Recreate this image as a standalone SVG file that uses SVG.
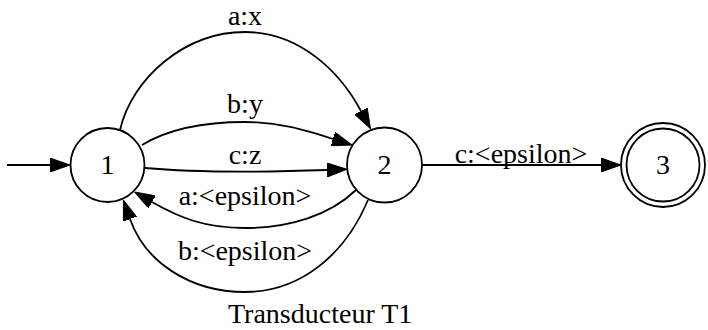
<svg xmlns="http://www.w3.org/2000/svg" width="708" height="330" viewBox="0 0 708 330">
<style>
.n{fill:#fff;stroke:#000;stroke-width:1.8}
.e{fill:none;stroke:#000;stroke-width:1.8}
text{font-family:"Liberation Serif","Times New Roman",serif;font-size:28px;fill:#000}
.c{text-anchor:middle}
</style>
<defs>
<marker id="ah" viewBox="0 0 20 14" refX="0" refY="7" markerWidth="20" markerHeight="14" markerUnits="userSpaceOnUse" orient="auto">
<path d="M0,0 L20,7 L0,14 z" fill="#000" stroke="#000" stroke-width="1"/>
</marker>
</defs>
<rect width="708" height="330" fill="#fff"/>
<g id="edges">
<path class="e" d="M7,165 L50,165" marker-end="url(#ah)"/>
<path class="e" d="M120,130 C132,78 185,32 245,32 C300,32 340,72 361,111" marker-end="url(#ah)"/>
<path class="e" d="M142,145 C170,128 205,122 245,122 C280,122 305,130 333,139" marker-end="url(#ah)"/>
<path class="e" d="M145,168 C200,173 270,172 327,170" marker-end="url(#ah)"/>
<path class="e" d="M356,190 C330,215 290,228 245,228 C205,228 180,218 152,202" marker-end="url(#ah)"/>
<path class="e" d="M368,200 C345,255 300,292 245,292 C190,292 145,262 130,219" marker-end="url(#ah)"/>
<path class="e" d="M422,165 L601,165" marker-end="url(#ah)"/>
<text class="c" x="245" y="25">a:x</text>
<text class="c" x="245" y="113">b:y</text>
<text class="c" x="245" y="164">c:z</text>
<text class="c" x="245" y="205">a:&lt;epsilon&gt;</text>
<text class="c" x="245" y="260">b:&lt;epsilon&gt;</text>
<text class="c" x="521" y="163">c:&lt;epsilon&gt;</text>
</g>
<g id="node1">
<circle class="n" cx="107.5" cy="165" r="37"/>
<text class="c" x="107.5" y="174">1</text>
</g>
<g id="node2">
<circle class="n" cx="384.5" cy="165" r="37.5"/>
<text class="c" x="384.5" y="174">2</text>
</g>
<g id="node3">
<circle class="n" cx="663" cy="165" r="42"/>
<circle class="n" cx="663" cy="165" r="36.5"/>
<text class="c" x="663" y="174">3</text>
</g>
<g id="label">
<text x="228" y="323">Transducteur T1</text>
</g>
</svg>
